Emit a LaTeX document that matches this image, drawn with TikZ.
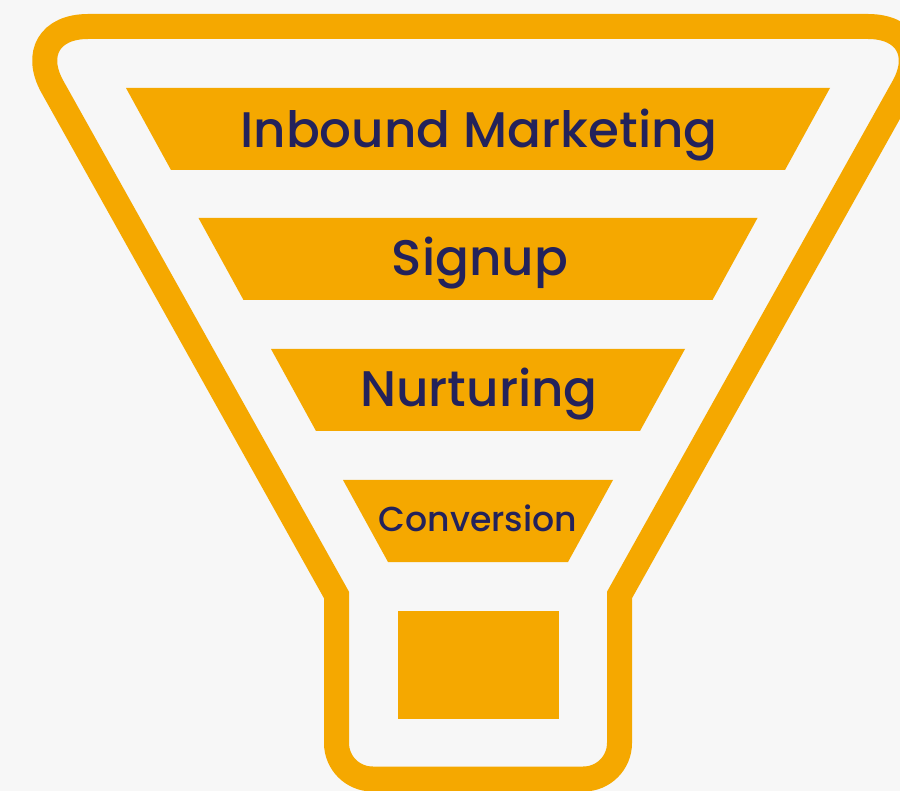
\documentclass[tikz,border=0pt]{standalone}
\usepackage{fontspec}
\IfFontExistsTF{Poppins Medium}{\setmainfont{Poppins Medium}}{\setmainfont{Poppins}}

\definecolor{funnelorange}{HTML}{F5A800}
\definecolor{labelnavy}{HTML}{23225B}
\definecolor{paper}{HTML}{F7F7F7}

\tikzset{every picture/.style={line width=0.75pt}}
\tikzset{
  funnel/.style={draw=funnelorange, line width=18.75pt, line join=miter},
  stage/.style={fill=funnelorange},
  stagelabel/.style={text=labelnavy, anchor=base, inner sep=0.75pt, font=\fontsize{37.5}{45}\selectfont},
  smalllabel/.style={stagelabel, font=\fontsize{26}{31}\selectfont}
}

\begin{document}
\begin{tikzpicture}[x=0.75pt,y=0.75pt,yscale=-1,xscale=1]
\useasboundingbox (0,0) rectangle (900,791);
\fill[paper] (0,0) rectangle (900,791);
\clip (0,0) rectangle (900,791);

%Shape: Funnel outline
\draw[funnel] (478,26.5) [rounded corners=52pt] -- (937.3,26.5) -- (778.4,310.75) [sharp corners] -- (619.5,595) -- (619.5,700) [rounded corners=27pt] -- (619.5,779) -- (336.5,779) -- (336.5,700) [sharp corners] -- (336.5,595) -- (177.6,310.75) [rounded corners=52pt] -- (18.7,26.5) -- cycle ;

%Shape: Trapezoid
\fill[stage] (126,88) -- (830,88) -- (785,170) -- (171,170) -- cycle ;
%Shape: Trapezoid
\fill[stage] (198.5,218) -- (757.5,218) -- (712.5,300) -- (243.5,300) -- cycle ;
%Shape: Trapezoid
\fill[stage] (271,349) -- (685,349) -- (640,431) -- (316,431) -- cycle ;
%Shape: Trapezoid
\fill[stage] (343,480) -- (613,480) -- (568,562) -- (388,562) -- cycle ;
%Shape: Rectangle
\fill[stage] (398,611) -- (559,611) -- (559,719) -- (398,719) -- cycle ;

% Text Node
\node[stagelabel] (inbound) at (479,148) {Inbound Marketing};
% Text Node
\node[stagelabel] (signup) at (480,276) {Signup};
% Text Node
\node[stagelabel] (nurturing) at (479,407) {Nurturing};
% Text Node
\node[smalllabel] (conversion) at (478,532) {Conversion};

\end{tikzpicture}
\end{document}
